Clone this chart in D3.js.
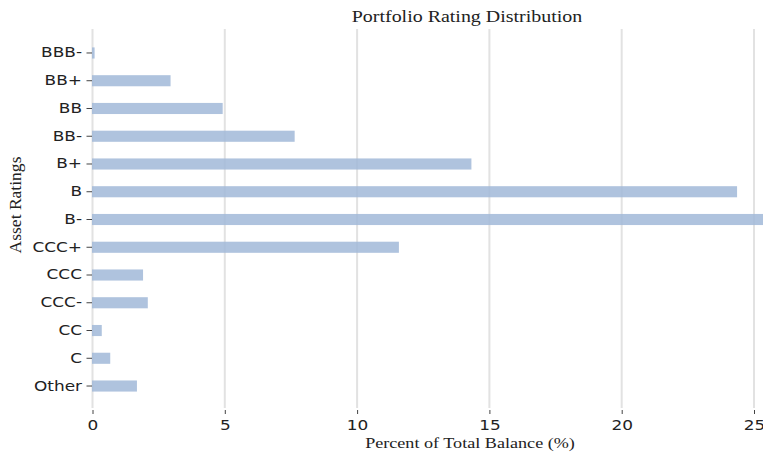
<!DOCTYPE html>
<html><head><meta charset="utf-8">
<script src="https://cdn.jsdelivr.net/npm/d3@7"></script>
<style>
html,body{margin:0;padding:0;background:#fff;}
svg{display:block;}
</style></head>
<body>
<svg id="chart" width="763" height="453"></svg>
<script>
const categories = ["BBB-","BB+","BB","BB-","B+","B","B-","CCC+","CCC","CCC-","CC","C","Other"];
const values = [0.08,2.95,4.92,7.64,14.32,24.36,25.4,11.58,1.91,2.09,0.35,0.67,1.68];
const xTicks = [0,5,10,15,20,25];
const title = "Portfolio Rating Distribution";
const xLabel = "Percent of Total Balance (%)";
const yLabel = "Asset Ratings";

const SX = 1.21; // horizontal text stretch seen in the reference
const svg = d3.select("#chart");
const x = d3.scaleLinear().domain([0,25]).range([92.5,754]);
const y = d3.scaleBand().domain(categories).range([39.1,399.9]).paddingInner(0.6).paddingOuter(0.3);
const gridTop = 29, gridBottom = 408;

// gridlines
svg.append("g").selectAll("line").data(xTicks).join("line")
  .attr("x1",d=>x(d)).attr("x2",d=>x(d)).attr("y1",gridTop).attr("y2",gridBottom)
  .attr("stroke","#e2e2e2").attr("stroke-width",2);

// bars
svg.append("g").selectAll("rect").data(categories).join("rect")
  .attr("x",x(0)-0.5).attr("y",d=>y(d))
  .attr("width",(d,i)=>x(values[i])-x(0)+0.5).attr("height",y.bandwidth())
  .attr("fill","#a1b8d8").attr("fill-opacity",0.85);

// x axis
const xAxis = d3.axisBottom(x).tickValues(xTicks).tickSize(4).tickPadding(6).tickFormat(d3.format("d"));
const gx = svg.append("g").attr("transform",`translate(0,${gridBottom+2})`).call(xAxis);
gx.select(".domain").remove();
gx.selectAll(".tick line").attr("stroke","#444").attr("stroke-width",1);
gx.selectAll(".tick text").attr("fill","#222").style("font-family","DejaVu Sans").style("font-size","14px")
  .attr("transform",`scale(${SX},1)`);

// y axis
const yAxis = d3.axisLeft(y).tickSize(5.5).tickPadding(4.5);
const gy = svg.append("g").attr("transform",`translate(${x(0)-0.5},0)`).call(yAxis);
gy.select(".domain").remove();
gy.selectAll(".tick line").attr("stroke","#444").attr("stroke-width",1);
gy.selectAll(".tick text").attr("fill","#222").style("font-family","DejaVu Sans").style("font-size","14px")
  .each(function(){
    const t = d3.select(this);
    const xv = +t.attr("x");
    t.attr("x",0).attr("transform",`translate(${xv},0) scale(${SX},1)`);
  });

svg.append("text").attr("transform",`translate(467,22.3) scale(${SX},1)`).attr("text-anchor","middle")
  .style("font-family","Liberation Serif").style("font-size","16.5px").attr("fill","#222").text(title);
svg.append("text").attr("transform",`translate(470,447.5) scale(${SX},1)`).attr("text-anchor","middle")
  .style("font-family","Liberation Serif").style("font-size","15px").attr("fill","#222").text(xLabel);
svg.append("text").attr("transform","translate(21,205) rotate(-90) scale(1.17,1.1)").attr("text-anchor","middle")
  .style("font-family","Liberation Serif").style("font-size","15px").attr("fill","#222").text(yLabel);
</script>
</body></html>
